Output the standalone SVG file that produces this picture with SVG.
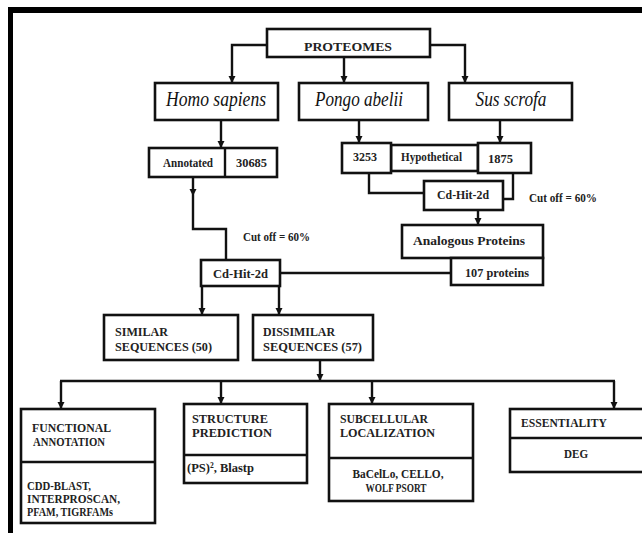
<svg xmlns="http://www.w3.org/2000/svg" width="642" height="533" viewBox="0 0 642 533">
<defs>
<style>
.b{fill:#fff;stroke:#111;stroke-width:2.6}
.c{fill:none;stroke:#111;stroke-width:2.4}
.t{font-family:"Liberation Serif","Times New Roman",serif;font-weight:bold;font-size:12px;fill:#222}
.l{font-size:13.5px}
.m{text-anchor:middle}
.s{font-family:"Liberation Serif","Times New Roman",serif;font-style:italic;font-size:20px;fill:#111;text-anchor:middle}
</style>
<marker id="ah" viewBox="0 0 8 8" markerUnits="userSpaceOnUse" markerWidth="7" markerHeight="8" refX="8" refY="4" orient="auto">
<path d="M0,0 L8,4 L0,8 z" fill="#111"/>
</marker>
</defs>
<rect width="642" height="533" fill="#fff"/>
<rect x="8" y="7" width="634" height="6" fill="#000"/>
<rect x="8" y="7" width="5" height="526" fill="#000"/>

<g id="connectors">
<polyline class="c" points="267,45 232,45 232,83" marker-end="url(#ah)"/>
<line class="c" x1="344" y1="57" x2="344" y2="83" marker-end="url(#ah)"/>
<polyline class="c" points="430,45 465,45 465,83" marker-end="url(#ah)"/>
<line class="c" x1="221" y1="120" x2="221" y2="148" marker-end="url(#ah)"/>
<line class="c" x1="359" y1="120" x2="359" y2="143" marker-end="url(#ah)"/>
<line class="c" x1="500" y1="120" x2="500" y2="143" marker-end="url(#ah)"/>
<polyline class="c" points="369,173 369,193 424,193"/>
<polyline class="c" points="513,173 513,199 503,199"/>
<line class="c" x1="478" y1="210" x2="478" y2="225" marker-end="url(#ah)"/>
<line class="c" x1="193" y1="177" x2="193" y2="196" marker-end="url(#ah)"/>
<polyline class="c" points="193,196 193,229 226,229 226,260"/>
<line class="c" x1="280" y1="273" x2="451" y2="273"/>
<line class="c" x1="202" y1="286" x2="202" y2="315" marker-end="url(#ah)"/>
<line class="c" x1="279" y1="286" x2="279" y2="315" marker-end="url(#ah)"/>
<line class="c" x1="320" y1="360" x2="320" y2="381" marker-end="url(#ah)"/>
<line class="c" x1="60" y1="381" x2="615" y2="381"/>
<line class="c" x1="61" y1="381" x2="61" y2="409" marker-end="url(#ah)"/>
<line class="c" x1="221" y1="381" x2="221" y2="404" marker-end="url(#ah)"/>
<line class="c" x1="372" y1="381" x2="372" y2="404" marker-end="url(#ah)"/>
<line class="c" x1="614" y1="381" x2="614" y2="409" marker-end="url(#ah)"/>
</g>

<g id="proteomes">
<rect class="b" x="267" y="29" width="163" height="28"/>
<text class="t m" x="348" y="51" font-size="17" textLength="88" lengthAdjust="spacingAndGlyphs">PROTEOMES</text>
</g>
<g id="homo">
<rect class="b" x="155" y="83" width="123" height="37"/>
<text class="s" x="216" y="106" textLength="100" lengthAdjust="spacingAndGlyphs">Homo sapiens</text>
</g>
<g id="pongo">
<rect class="b" x="299" y="83" width="129" height="37"/>
<text class="s" x="359" y="106" textLength="88" lengthAdjust="spacingAndGlyphs">Pongo abelii</text>
</g>
<g id="sus">
<rect class="b" x="449" y="83" width="123" height="37"/>
<text class="s" x="511" y="106" textLength="71" lengthAdjust="spacingAndGlyphs">Sus scrofa</text>
</g>
<g id="annotated">
<rect class="b" x="149" y="148" width="128" height="29"/>
<line class="c" x1="225" y1="148" x2="225" y2="177"/>
<text class="t m" x="188" y="167" font-size="11.5" textLength="50" lengthAdjust="spacingAndGlyphs">Annotated</text>
<text class="t m" x="251.5" y="167" textLength="31" lengthAdjust="spacingAndGlyphs">30685</text>
</g>
<g id="hypothetical">
<rect class="b" x="391" y="145" width="87" height="26"/>
<rect class="b" x="342" y="143" width="49" height="30"/>
<rect class="b" x="478" y="143" width="53" height="30"/>
<text class="t m" x="365" y="161" textLength="24" lengthAdjust="spacingAndGlyphs">3253</text>
<text class="t m" x="431.5" y="161" textLength="61" lengthAdjust="spacingAndGlyphs">Hypothetical</text>
<text class="t m" x="500.5" y="163" textLength="25" lengthAdjust="spacingAndGlyphs">1875</text>
</g>
<g id="cdhit-upper">
<rect class="b" x="424" y="181" width="79" height="29"/>
<text class="t m" x="463" y="199" font-size="12.5" textLength="52" lengthAdjust="spacingAndGlyphs">Cd-Hit-2d</text>
</g>
<g id="cutoff-right">
<text class="t" x="529" y="202" font-size="12.5" textLength="68" lengthAdjust="spacingAndGlyphs">Cut off = 60%</text>
</g>
<g id="analogous">
<rect class="b" x="402" y="225" width="141" height="33"/>
<text class="t m" x="469" y="245" font-size="14.5" textLength="112" lengthAdjust="spacingAndGlyphs">Analogous Proteins</text>
</g>
<g id="proteins107">
<rect class="b" x="451" y="258" width="92" height="27"/>
<text class="t m" x="497" y="277" font-size="13" textLength="64" lengthAdjust="spacingAndGlyphs">107 proteins</text>
</g>
<g id="cutoff-left">
<text class="t" x="243" y="241" font-size="12.5" textLength="67" lengthAdjust="spacingAndGlyphs">Cut off = 60%</text>
</g>
<g id="cdhit-lower">
<rect class="b" x="201" y="260" width="79" height="26"/>
<text class="t m" x="240.5" y="278" font-size="12.5" textLength="55" lengthAdjust="spacingAndGlyphs">Cd-Hit-2d</text>
</g>
<g id="similar">
<rect class="b" x="104" y="315" width="134" height="45"/>
<text class="t l" x="115" y="336" textLength="53" lengthAdjust="spacingAndGlyphs">SIMILAR</text>
<text class="t l" x="115" y="351" textLength="97" lengthAdjust="spacingAndGlyphs">SEQUENCES  (50)</text>
</g>
<g id="dissimilar">
<rect class="b" x="253" y="315" width="120" height="45"/>
<text class="t l" x="263" y="336" textLength="72" lengthAdjust="spacingAndGlyphs">DISSIMILAR</text>
<text class="t l" x="263" y="351" textLength="99" lengthAdjust="spacingAndGlyphs">SEQUENCES  (57)</text>
</g>
<g id="functional">
<rect class="b" x="21" y="409" width="134" height="114"/>
<line class="c" x1="21" y1="462" x2="155" y2="462"/>
<text class="t l" x="32" y="432" textLength="79" lengthAdjust="spacingAndGlyphs">FUNCTIONAL</text>
<text class="t l" x="33" y="446" textLength="72" lengthAdjust="spacingAndGlyphs">ANNOTATION</text>
<text class="t" x="27" y="490" textLength="64" lengthAdjust="spacingAndGlyphs">CDD-BLAST,</text>
<text class="t" x="27" y="503" textLength="93" lengthAdjust="spacingAndGlyphs">INTERPROSCAN,</text>
<text class="t" x="27" y="516" textLength="86" lengthAdjust="spacingAndGlyphs">PFAM, TIGRFAMs</text>
</g>
<g id="structure">
<rect class="b" x="184" y="404" width="123" height="79"/>
<line class="c" x1="184" y1="455" x2="307" y2="455"/>
<text class="t l" x="192" y="423" textLength="76" lengthAdjust="spacingAndGlyphs">STRUCTURE</text>
<text class="t l" x="192" y="437" textLength="80" lengthAdjust="spacingAndGlyphs">PREDICTION</text>
<text class="t l" x="187" y="472" textLength="67" lengthAdjust="spacingAndGlyphs">(PS)², Blastp</text>
</g>
<g id="subcellular">
<rect class="b" x="329" y="404" width="144" height="97"/>
<line class="c" x1="329" y1="458" x2="473" y2="458"/>
<text class="t l" x="340" y="423" textLength="88" lengthAdjust="spacingAndGlyphs">SUBCELLULAR</text>
<text class="t l" x="340" y="437" textLength="95" lengthAdjust="spacingAndGlyphs">LOCALIZATION</text>
<text class="t l m" x="398" y="478" textLength="91" lengthAdjust="spacingAndGlyphs">BaCelLo, CELLO,</text>
<text class="t l m" x="396" y="492" textLength="61" lengthAdjust="spacingAndGlyphs">WOLF PSORT</text>
</g>
<g id="essentiality">
<rect class="b" x="510" y="409" width="140" height="63"/>
<line class="c" x1="510" y1="438" x2="650" y2="438"/>
<text class="t l" x="521" y="427" textLength="86" lengthAdjust="spacingAndGlyphs">ESSENTIALITY</text>
<text class="t l m" x="576" y="458" textLength="24" lengthAdjust="spacingAndGlyphs">DEG</text>
</g>
</svg>
